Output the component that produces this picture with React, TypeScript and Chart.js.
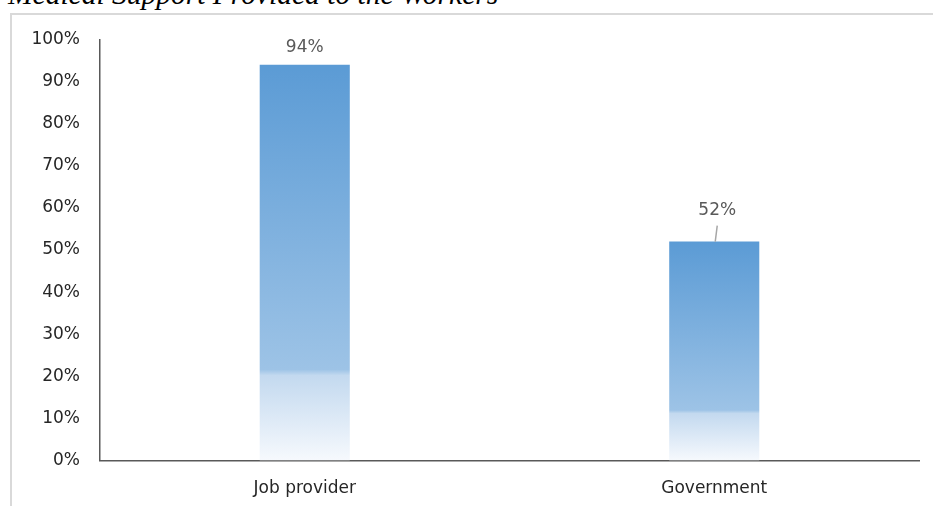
import React, { useEffect, useRef } from "react";
import { Chart, registerables } from "chart.js";

Chart.register(...registerables);

const TITLE = "Medical Support Provided to the Workers";
const categories = ["Job provider", "Government"];
const values = [94, 52];
const yTicks = [0, 10, 20, 30, 40, 50, 60, 70, 80, 90, 100];

const FONT = "'DejaVu Sans', 'Open Sans', sans-serif";
const LABEL_LIFT = [17, 31];
const LEADER = [false, true];

const dataLabelPlugin = {
  id: "dataLabels",
  afterDatasetsDraw(chart: any) {
    const { ctx } = chart;
    const meta = chart.getDatasetMeta(0);
    ctx.save();
    ctx.font = `17px ${FONT}`;
    ctx.fillStyle = "#595959";
    ctx.textAlign = "center";
    ctx.textBaseline = "middle";
    meta.data.forEach((bar: any, i: number) => {
      const lift = LABEL_LIFT[i];
      ctx.fillText(values[i] + "%", bar.x + (LEADER[i] ? 3 : 0), bar.y - lift);
      if (LEADER[i]) {
        ctx.strokeStyle = "#a6a6a6";
        ctx.lineWidth = 1.5;
        ctx.beginPath();
        ctx.moveTo(bar.x + 3, bar.y - lift + 15);
        ctx.lineTo(bar.x + 1, bar.y);
        ctx.stroke();
      }
    });
    ctx.restore();
  },
};

export default function App() {
  const ref = useRef<HTMLCanvasElement>(null);
  useEffect(() => {
    if (!ref.current) return;
    const chart = new Chart(ref.current, {
      type: "bar",
      data: {
        labels: categories,
        datasets: [
          {
            data: values,
            backgroundColor: (c: any) => {
              const ch = c.chart;
              const y = ch.scales && ch.scales.y;
              if (!y || c.type !== "data") return "#5b9bd5";
              const top = y.getPixelForValue(c.raw);
              const bottom = y.getPixelForValue(0);
              if (!isFinite(top) || !isFinite(bottom) || top === bottom) return "#5b9bd5";
              const g = ch.ctx.createLinearGradient(0, top, 0, bottom);
              g.addColorStop(0, "#5b9bd5");
              g.addColorStop(0.77, "#9dc3e6");
              g.addColorStop(0.785, "#c3d9ef");
              g.addColorStop(1, "#f6f9fd");
              return g;
            },
            borderWidth: 0,
            barPercentage: 0.22,
            categoryPercentage: 1,
          },
        ],
      },
      options: {
        responsive: false,
        animation: false,
        layout: { padding: { left: 0, right: 14, top: 24.5, bottom: 0 } },
        plugins: { legend: { display: false }, tooltip: { enabled: false }, title: { display: false } },
        scales: {
          x: {
            grid: { display: false, drawTicks: false },
            border: { display: true, color: "#595959", width: 1.5 },
            ticks: { color: "#262626", font: { family: FONT, size: 17 }, padding: 18 },
            afterFit: (s: any) => { s.height = 45.5; s.paddingLeft = 0; s.paddingRight = 0; },
          },
          y: {
            min: 0,
            max: 100,
            afterBuildTicks: (s: any) => { s.ticks = yTicks.map((v) => ({ value: v })); },
            grid: { display: false, drawTicks: false },
            border: { display: true, color: "#595959", width: 1.5 },
            ticks: { color: "#262626", font: { family: FONT, size: 17 }, padding: 20, callback: (v: any) => v + "%" },
            afterFit: (s: any) => { s.width = 88; s.paddingTop = 0; s.paddingBottom = 0; },
          },
        },
      },
      plugins: [dataLabelPlugin],
    });
    return () => chart.destroy();
  }, []);

  return (
    <div style={{ position: "fixed", left: 0, top: 0, width: 933, height: 506, overflow: "hidden", background: "#fff" }}>
      <div
        style={{
          position: "absolute",
          left: 10,
          top: 13,
          width: 960,
          height: 540,
          border: "2px solid #d9d9d9",
          boxSizing: "border-box",
        }}
      />
      <div
        style={{
          position: "absolute",
          left: 8,
          top: -20,
          fontFamily: "'Liberation Serif', 'Times New Roman', serif",
          fontStyle: "italic",
          fontSize: 29.5,
          lineHeight: 1,
          whiteSpace: "nowrap",
          color: "#000",
        }}
      >
        {TITLE}
      </div>
      <canvas
        ref={ref}
        width={921}
        height={491}
        style={{ position: "absolute", left: 12, top: 15, width: 921, height: 491 }}
      />
    </div>
  );
}
